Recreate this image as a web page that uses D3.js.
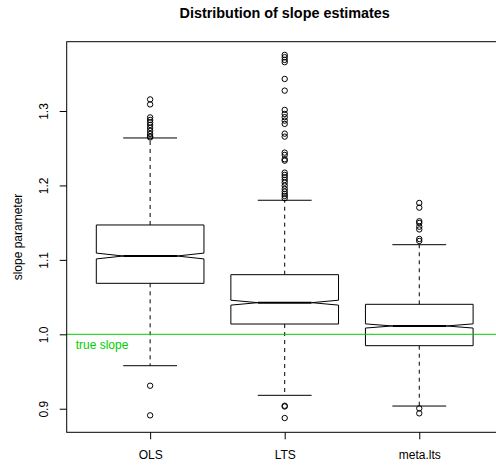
<!DOCTYPE html>
<html>
<head>
<meta charset="utf-8">
<script src="https://cdn.jsdelivr.net/npm/d3@7"></script>
<style>
  body { margin: 0; background: #fff; }
  text { font-family: "Liberation Sans", Arial, Helvetica, sans-serif; }
</style>
</head>
<body>
<div id="chart"></div>
<script>
// box statistics
const categories = ["OLS", "LTS", "meta.lts"];
const whiskerLow  = [0.9578, 0.9180, 0.9036];
const q1          = [1.0685, 1.0138, 0.9847];
const medians     = [1.1052, 1.0425, 1.0112];
const q3          = [1.1469, 1.0801, 1.0403];
const whiskerHigh = [1.2638, 1.1801, 1.1204];
const notchHalf   = [0.0039, 0.0033, 0.0028];

const olsOut = [1.3156, 1.3089, 1.2914, 1.2880, 1.2847, 1.2813, 1.2773, 1.2733, 1.2692,
  1.2659, 1.2645, 0.9309, 0.8911];
const ltsOut = [1.3754, 1.3723, 1.3687, 1.3656, 1.3431, 1.3274, 1.3015, 1.2961, 1.2917,
  1.2871, 1.2827, 1.2696, 1.2656, 1.2441, 1.2410, 1.2352, 1.2333, 1.2172, 1.2141, 1.2110,
  1.2074, 1.2038, 1.1997, 1.1953, 1.1917, 1.1886, 1.1859, 1.1828, 0.9040, 0.9030, 0.8875];
const metaOut = [1.1765, 1.1702, 1.1519, 1.1496, 1.1446, 1.1409, 1.1281, 1.1254, 0.9005, 0.8938];
const outliers = [olsOut, ltsOut, metaOut];

const yTicks = [0.9, 1.0, 1.1, 1.2, 1.3];
const trueSlope = 1.0;

const width = 496, height = 470;
const plotL = 66.7, plotR = 502.7, plotT = 41.7, plotB = 432.3;

const x = d3.scaleLinear().domain([0.38, 3.62]).range([plotL, plotR]);
const y = d3.scaleLinear().domain([0.86832, 1.39315]).range([plotB, plotT]);
const wid = (x(2) - x(1)) * 0.4;

const svg = d3.select("#chart").append("svg")
  .attr("width", width).attr("height", height);

const boxes = categories.map((c, i) => ({
  c, i: i + 1,
  lo: whiskerLow[i], q1: q1[i], med: medians[i], q3: q3[i], hi: whiskerHigh[i],
  n1: medians[i] - notchHalf[i], n2: medians[i] + notchHalf[i], out: outliers[i]
}));

const g = svg.selectAll("g.box").data(boxes).join("g").attr("class", "box");

// dashed whiskers
g.append("line")
  .attr("x1", d => x(d.i)).attr("x2", d => x(d.i))
  .attr("y1", d => y(d.q3)).attr("y2", d => y(d.hi))
  .attr("stroke", "#000").attr("stroke-dasharray", "4,4");
g.append("line")
  .attr("x1", d => x(d.i)).attr("x2", d => x(d.i))
  .attr("y1", d => y(d.q1)).attr("y2", d => y(d.lo))
  .attr("stroke", "#000").attr("stroke-dasharray", "4,4");

// staples
g.selectAll("line.staple").data(d => [d.lo, d.hi].map(v => ({ i: d.i, v })))
  .join("line").attr("class", "staple")
  .attr("x1", d => x(d.i) - wid / 2).attr("x2", d => x(d.i) + wid / 2)
  .attr("y1", d => y(d.v)).attr("y2", d => y(d.v))
  .attr("stroke", "#000");

// notched box
g.append("path")
  .attr("d", d => {
    const cx = x(d.i);
    const pts = [
      [cx - wid, y(d.q1)], [cx + wid, y(d.q1)], [cx + wid, y(d.n1)], [cx + wid / 2, y(d.med)],
      [cx + wid, y(d.n2)], [cx + wid, y(d.q3)], [cx - wid, y(d.q3)], [cx - wid, y(d.n2)],
      [cx - wid / 2, y(d.med)], [cx - wid, y(d.n1)]
    ];
    return d3.line()(pts) + "Z";
  })
  .attr("fill", "#fff").attr("stroke", "#000");

// median
g.append("line")
  .attr("x1", d => x(d.i) - wid / 2).attr("x2", d => x(d.i) + wid / 2)
  .attr("y1", d => y(d.med)).attr("y2", d => y(d.med))
  .attr("stroke", "#000").attr("stroke-width", 2);

// outliers
g.selectAll("circle").data(d => d.out.map(v => ({ i: d.i, v })))
  .join("circle")
  .attr("cx", d => x(d.i)).attr("cy", d => y(d.v)).attr("r", 2.7)
  .attr("fill", "none").attr("stroke", "#000");

// reference line
svg.append("line")
  .attr("x1", plotL).attr("x2", width)
  .attr("y1", y(trueSlope)).attr("y2", y(trueSlope))
  .attr("stroke", "#00cd00");
svg.append("text")
  .attr("x", 75.7).attr("y", y(trueSlope) + 15)
  .attr("fill", "#00cd00").attr("font-size", 12)
  .text("true slope");

// frame
svg.append("rect")
  .attr("x", plotL).attr("y", plotT)
  .attr("width", plotR - plotL).attr("height", plotB - plotT)
  .attr("fill", "none").attr("stroke", "#000");

// axes
const yAxis = svg.append("g")
  .attr("transform", `translate(${plotL},0)`)
  .call(d3.axisLeft(y).tickValues(yTicks).tickFormat(d3.format(".1f")).tickSize(7));
yAxis.select(".domain").remove();
yAxis.attr("font-family", null);
yAxis.selectAll("line").attr("stroke", "#000");
yAxis.selectAll("text").each(function () {
  d3.select(this)
    .attr("x", 0).attr("dy", null)
    .attr("transform", "translate(-19,0) rotate(-90)")
    .attr("text-anchor", "middle")
    .attr("font-size", 12).attr("fill", "#000");
});

const xAxis = svg.append("g")
  .attr("transform", `translate(0,${plotB})`)
  .call(d3.axisBottom(x).tickValues([1, 2, 3]).tickFormat((d, i) => categories[i]).tickSize(7).tickPadding(11));
xAxis.select(".domain").remove();
xAxis.attr("font-family", null);
xAxis.selectAll("text").attr("font-size", 12).attr("fill", "#000");
xAxis.selectAll("line").attr("stroke", "#000");

// titles
svg.append("text")
  .attr("x", (plotL + plotR) / 2).attr("y", 17.5)
  .attr("text-anchor", "middle").attr("font-size", 14.4).attr("font-weight", "bold")
  .text("Distribution of slope estimates");
svg.append("text")
  .attr("transform", `translate(22,${(plotT + plotB) / 2}) rotate(-90)`)
  .attr("text-anchor", "middle").attr("font-size", 12)
  .text("slope parameter");
</script>
</body>
</html>
